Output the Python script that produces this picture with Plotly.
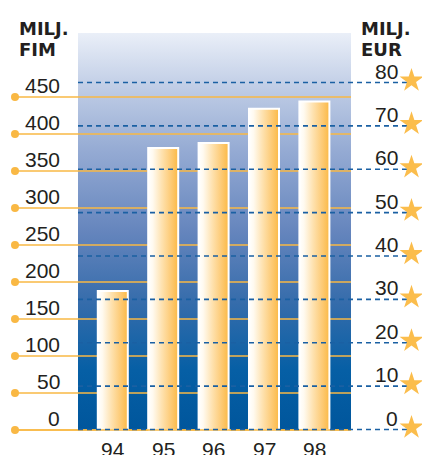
import plotly.graph_objects as go

# ---------------- data ----------------
years = ["94", "95", "96", "97", "98"]
sales_fim = [188, 381, 388, 434, 444]
fim_ticks = [0, 50, 100, 150, 200, 250, 300, 350, 400, 450]
eur_ticks = [0, 10, 20, 30, 40, 50, 60, 70, 80]
fim_title = ["MILJ.", "FIM"]
eur_title = ["MILJ.", "EUR"]

# ---------------- layout helpers ----------------
W, H = 422, 455
X0, DX = 112.8, 50.4          # pixel of first category, pixels per category


def xd(px):
    return (px - X0) / DX


Y0, KY = 430.0, 0.74          # pixel of FIM 0, pixels per FIM


def yd(py):
    return (Y0 - py) / KY


E0, KE = 429.5, 4.3375        # pixel of EUR 0, pixels per EUR

ORANGE = "#f9b844"
DASHBLUE = "#1a60a3"
TEXT = "#231f20"
TICKFONT = dict(family="Liberation Sans", size=21, color=TEXT)
TITLEFONT = dict(family="DejaVu Sans", size=18, color=TEXT, weight="bold")

fig = go.Figure()

# background gradient panel
bx0, bx1 = xd(78), xd(351)
by1 = yd(33)
fig.add_trace(go.Scatter(
    x=[bx0, bx1, bx1, bx0, bx0], y=[0, 0, by1, by1, 0],
    mode="lines", fill="toself", line=dict(width=0),
    fillgradient=dict(type="vertical", colorscale=[
        [0.0, "#00569c"], [0.15, "#065fa5"], [0.32, "#356cab"],
        [0.5, "#6585bd"], [0.7, "#94aad3"], [0.85, "#bccae4"], [1.0, "#eaeff8"]]),
    hoverinfo="skip", showlegend=False))

# dashed EUR lines (secondary axis)
dx, dy = [], []
for v in eur_ticks:
    dx += [xd(78), xd(408), None]
    dy += [v, v, None]
fig.add_trace(go.Scatter(
    x=dx, y=dy, yaxis="y2", mode="lines",
    line=dict(color=DASHBLUE, width=1.6, dash="5px,4px"),
    hoverinfo="skip", showlegend=False))

# orange FIM lines with dots
ox, oy = [], []
for v in fim_ticks:
    ox += [xd(15), xd(351), None]
    oy += [v, v, None]
fig.add_trace(go.Scatter(
    x=ox, y=oy, mode="lines", line=dict(color=ORANGE, width=1.5),
    hoverinfo="skip", showlegend=False))
fig.add_trace(go.Scatter(
    x=[xd(15)] * len(fim_ticks), y=fim_ticks, mode="markers",
    marker=dict(color=ORANGE, size=8, line=dict(width=0)),
    hoverinfo="skip", showlegend=False))

# bars with horizontal gradient
hw = 15 / DX
for i, v in enumerate(sales_fim):
    fig.add_trace(go.Scatter(
        x=[i - hw, i + hw, i + hw, i - hw, i - hw], y=[0, 0, v, v, 0],
        mode="lines", fill="toself", line=dict(color="white", width=2),
        fillgradient=dict(type="horizontal", colorscale=[
            [0.0, "#ffffff"], [0.15, "#fffaf0"], [0.45, "#fee2b0"],
            [0.75, "#fdcb77"], [1.0, "#fbb945"]]),
        hoverinfo="skip", showlegend=False, name=years[i]))

# zero line over the bar bottoms
zx = [xd(15), xd(351)]
fig.add_trace(go.Scatter(
    x=zx, y=[fim_ticks[0], fim_ticks[0]], mode="lines",
    line=dict(color=ORANGE, width=1.5), hoverinfo="skip", showlegend=False))

# stars
fig.add_trace(go.Scatter(
    x=[xd(411.5)] * len(eur_ticks), y=[v + 2 / KE for v in eur_ticks],
    yaxis="y2", mode="markers",
    marker=dict(symbol="star", size=18, color="#fbbd4c", line=dict(width=0)),
    hoverinfo="skip", showlegend=False))

ann = []
for v in fim_ticks:
    ann.append(dict(x=xd(62), y=v, xref="x", yref="y", text=str(v),
                    xanchor="right", yanchor="bottom", yshift=-2,
                    showarrow=False, font=TICKFONT))
for v in eur_ticks:
    ann.append(dict(x=xd(400), y=v, xref="x", yref="y2", text=str(v),
                    xanchor="right", yanchor="bottom", yshift=-2,
                    showarrow=False, font=TICKFONT))
for i, yr in enumerate(years):
    ann.append(dict(x=i, y=yd(449), xref="x", yref="y", text=yr,
                    xanchor="center", yanchor="middle",
                    showarrow=False, font=TICKFONT))
for k, t in enumerate(fim_title):
    ann.append(dict(x=17 / W, y=1 - (16 + 21 * k) / H, xref="paper", yref="paper",
                    text=t, xanchor="left", yanchor="top", showarrow=False,
                    font=TITLEFONT))
for k, t in enumerate(eur_title):
    ann.append(dict(x=359 / W, y=1 - (16 + 21 * k) / H, xref="paper", yref="paper",
                    text=t, xanchor="left", yanchor="top", showarrow=False,
                    font=TITLEFONT))

fig.update_layout(
    width=W, height=H, margin=dict(l=0, r=0, t=0, b=0),
    paper_bgcolor="white", plot_bgcolor="white",
    xaxis=dict(range=[xd(0), xd(W)], visible=False, fixedrange=True),
    yaxis=dict(range=[yd(H), yd(0)], visible=False, fixedrange=True),
    yaxis2=dict(range=[(E0 - H) / KE, E0 / KE], overlaying="y", visible=False,
                fixedrange=True),
    annotations=ann, showlegend=False,
)

fig.write_html(
    "out.html", config={"displayModeBar": False},
    post_script="document.body.style.margin='0';document.body.style.overflow='hidden';")
